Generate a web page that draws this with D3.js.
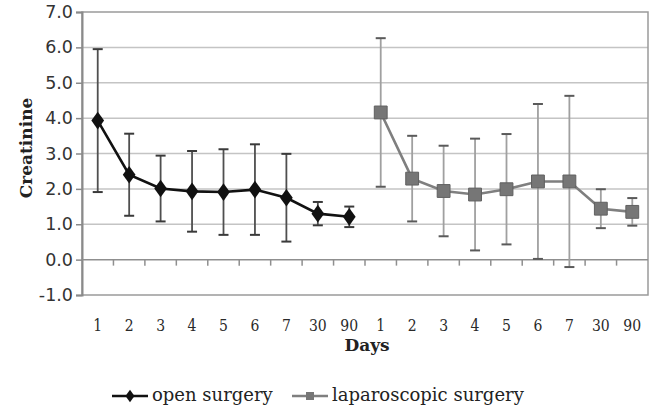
<!DOCTYPE html>
<html>
<head>
<meta charset="utf-8">
<script src="https://cdn.jsdelivr.net/npm/d3@7"></script>
<style>
  html, body { margin: 0; padding: 0; background: #fff; }
  svg { display: block; }
</style>
</head>
<body>
<svg id="chart" width="661" height="414"></svg>
<script>
// Creatinine over time after open vs laparoscopic surgery (mean ± SD)
const days = ["1", "2", "3", "4", "5", "6", "7", "30", "90"];
const openMean = [3.93, 2.40, 2.01, 1.93, 1.91, 1.98, 1.75, 1.30, 1.21];
const openSD   = [2.02, 1.16, 0.93, 1.14, 1.21, 1.28, 1.24, 0.33, 0.29];
const lapMean  = [4.16, 2.29, 1.94, 1.84, 1.99, 2.21, 2.21, 1.44, 1.35];
const lapSD    = [2.10, 1.21, 1.28, 1.58, 1.56, 2.19, 2.42, 0.55, 0.39];
const yTicks = [-1, 0, 1, 2, 3, 4, 5, 6, 7];

const svg = d3.select("#chart");
const plotL = 82, plotR = 648, plotT = 12, plotB = 295;

// 18 slots: open surgery days followed by laparoscopic surgery days
const slots = d3.range(days.length * 2);
const x = d3.scaleBand().domain(slots).range([plotL, plotR]).padding(0);
const y = d3.scaleLinear().domain([-1, 7]).range([plotB, plotT]);
const cx = i => x(i) + x.bandwidth() / 2;

// horizontal gridlines
svg.append("g").selectAll("line").data(yTicks.filter(v => v > 0 && v < 7))
  .join("line")
  .attr("x1", plotL).attr("x2", plotR)
  .attr("y1", d => y(d)).attr("y2", d => y(d))
  .attr("stroke", "#c4c4c4").attr("stroke-width", 1.5);

// plot frame
svg.append("rect")
  .attr("x", plotL).attr("y", plotT)
  .attr("width", plotR - plotL).attr("height", plotB - plotT)
  .attr("fill", "none").attr("stroke", "#9a9a9a").attr("stroke-width", 1.5);

// y axis (plain hyphen for the negative label)
const fmt = d => d.toFixed(1);
const yAxis = svg.append("g")
  .attr("transform", `translate(${plotL},0)`)
  .call(d3.axisLeft(y).tickValues(yTicks).tickFormat(fmt).tickSize(6).tickPadding(3));
yAxis.select(".domain").attr("stroke", "#8a8a8a").attr("stroke-width", 2);
yAxis.selectAll(".tick line").attr("stroke", "#8a8a8a").attr("stroke-width", 1.5);
yAxis.selectAll("text")
  .attr("font-family", "'DejaVu Sans', Verdana, sans-serif")
  .attr("font-size", 17.5).attr("fill", "#333");

// category axis line at zero with tick marks between slots
svg.append("line")
  .attr("x1", plotL).attr("x2", plotR)
  .attr("y1", y(0)).attr("y2", y(0))
  .attr("stroke", "#8f8f8f").attr("stroke-width", 1.5);
svg.append("g").selectAll("line").data(slots.slice(1))
  .join("line")
  .attr("x1", d => x(d)).attr("x2", d => x(d))
  .attr("y1", y(0)).attr("y2", y(0) + 6)
  .attr("stroke", "#8f8f8f").attr("stroke-width", 1.5);

// category labels along the bottom (narrow slab-serif digits)
svg.append("g").selectAll("text").data(slots)
  .join("text")
  .attr("transform", d => `translate(${cx(d)},331) scale(0.8,1)`)
  .attr("text-anchor", "middle")
  .attr("font-family", "'DejaVu Serif', serif")
  .attr("font-size", 17.5).attr("fill", "#2a2a2a")
  .text(d => days[d % days.length]);

// axis titles
svg.append("text")
  .attr("x", 367).attr("y", 351)
  .attr("text-anchor", "middle")
  .attr("font-family", "'DejaVu Serif', serif").attr("font-weight", "bold")
  .attr("font-size", 17).attr("fill", "#222")
  .text("Days");
svg.append("text")
  .attr("transform", "translate(32,148) rotate(-90)")
  .attr("text-anchor", "middle")
  .attr("font-family", "'DejaVu Serif', serif").attr("font-weight", "bold")
  .attr("font-size", 17).attr("fill", "#222")
  .text("Creatinine");

// series definitions
const series = [
  { name: "open surgery", mean: openMean, sd: openSD, offset: 0,
    line: "#111", bar: "#4f4f4f", cap: "#3a3a3a", marker: "diamond", fill: "#111", edge: "none" },
  { name: "laparoscopic surgery", mean: lapMean, sd: lapSD, offset: days.length,
    line: "#7f7f7f", bar: "#a0a0a0", cap: "#5a5a5a", marker: "square", fill: "#767676", edge: "#606060" }
];

function markerPath(kind, big) {
  if (kind === "diamond") return d3.symbol().type(d3.symbolDiamond).size(big ? 90 : 45)();
  return d3.symbol().type(d3.symbolSquare).size(big ? 165 : 64)();
}
function markerTransform(kind, px, py) {
  return kind === "diamond" ? `translate(${px},${py}) scale(1.25,1)` : `translate(${px},${py})`;
}

series.forEach(s => {
  const pts = s.mean.map((m, i) => ({ i: i + s.offset, m, sd: s.sd[i] }));
  const g = svg.append("g");

  // error bars
  g.selectAll("line.err").data(pts).join("line")
    .attr("class", "err")
    .attr("x1", d => cx(d.i)).attr("x2", d => cx(d.i))
    .attr("y1", d => y(d.m + d.sd)).attr("y2", d => y(d.m - d.sd))
    .attr("stroke", s.bar).attr("stroke-width", 1.8);
  [1, -1].forEach((sign, k) => {
    g.selectAll(`line.cap${k}`).data(pts).join("line")
      .attr("class", `cap${k}`)
      .attr("x1", d => cx(d.i) - 5).attr("x2", d => cx(d.i) + 5)
      .attr("y1", d => y(d.m + sign * d.sd))
      .attr("y2", d => y(d.m + sign * d.sd))
      .attr("stroke", s.cap).attr("stroke-width", 2);
  });

  // mean line
  g.append("path").datum(pts)
    .attr("fill", "none").attr("stroke", s.line).attr("stroke-width", 2.6)
    .attr("d", d3.line().x(d => cx(d.i)).y(d => y(d.m)));

  // markers
  g.selectAll("path.mk").data(pts).join("path")
    .attr("class", "mk")
    .attr("d", markerPath(s.marker, true))
    .attr("transform", d => markerTransform(s.marker, cx(d.i), y(d.m)))
    .attr("fill", s.fill)
    .attr("stroke", s.edge)
    .attr("stroke-width", 1);
});

// legend
const legend = svg.append("g").attr("font-family", "'DejaVu Serif', serif")
  .attr("font-size", 18).attr("fill", "#222");
const legendX = [112, 292];
series.forEach((s, k) => {
  const x0 = legendX[k], ly = 396;
  legend.append("line").attr("x1", x0).attr("x2", x0 + 36)
    .attr("y1", ly).attr("y2", ly)
    .attr("stroke", s.line).attr("stroke-width", 2.6);
  legend.append("path")
    .attr("d", markerPath(s.marker, false))
    .attr("transform", markerTransform(s.marker, x0 + 18, ly))
    .attr("fill", s.fill);
  legend.append("text").attr("x", x0 + 40).attr("y", ly + 5).text(s.name);
});
</script>
</body>
</html>
